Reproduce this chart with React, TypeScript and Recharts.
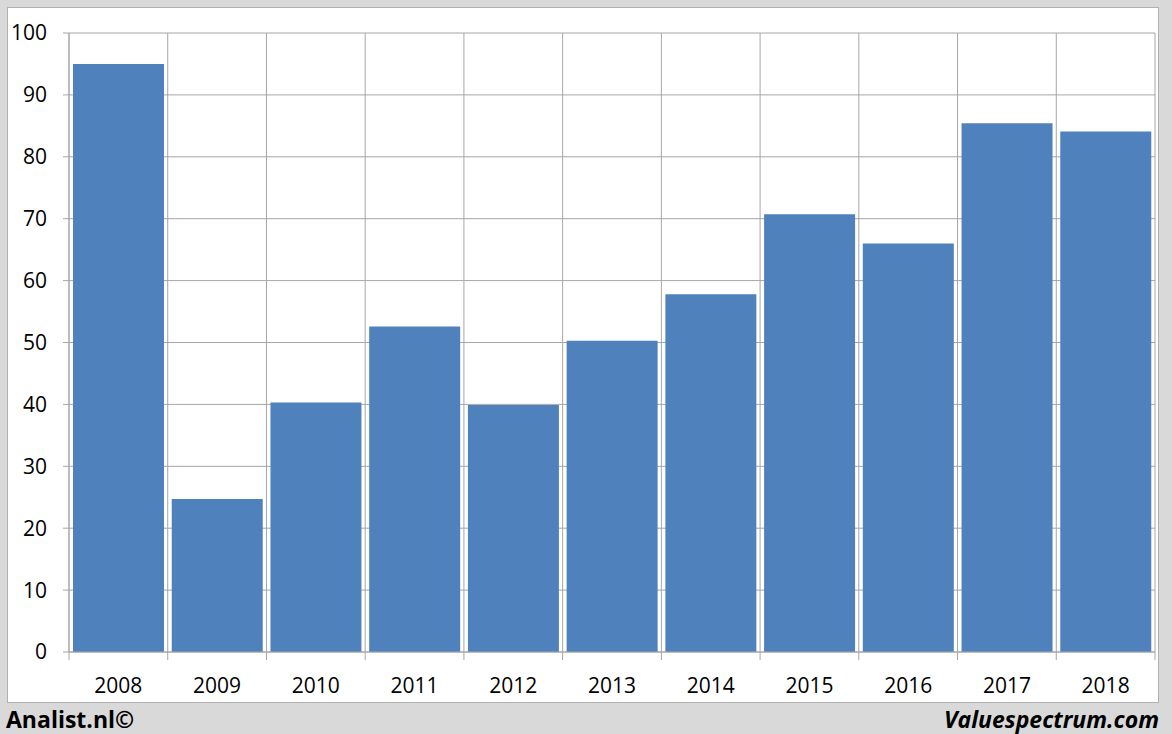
import { BarChart, Bar, XAxis, YAxis, CartesianGrid } from 'recharts'

const years = ['2008', '2009', '2010', '2011', '2012', '2013', '2014', '2015', '2016', '2017', '2018']
const values = [95, 24.7, 40.3, 52.6, 39.9, 50.3, 57.8, 70.7, 66, 85.4, 84.1]
const yTicks = [0, 10, 20, 30, 40, 50, 60, 70, 80, 90, 100]

const data = years.map((year, i) => ({ year, value: values[i] }))

const CHART_W = 1152
const CHART_H = 696
const Y_AXIS_W = 62
const MARGIN = { top: 26, right: 4, left: 0, bottom: 0 }
const PLOT_W = CHART_W - Y_AXIS_W - MARGIN.left - MARGIN.right
const BAND = PLOT_W / years.length
const GRID = '#a6a6a6'
const FONT = '"Open Sans", "Noto Sans", sans-serif'

function CatTick(props: any) {
  const { x, y, payload, index } = props
  const isLast = index === years.length - 1
  return (
    <g>
      <line x1={x - BAND / 2} x2={x - BAND / 2} y1={y} y2={y + 8} stroke={GRID} />
      {isLast && <line x1={x + BAND / 2} x2={x + BAND / 2} y1={y} y2={y + 8} stroke={GRID} />}
      <text x={x} y={y + 33} textAnchor="middle" dominantBaseline="central" fill="#000" fontSize={21} fontFamily={FONT}>
        {payload.value}
      </text>
    </g>
  )
}

export default function App() {
  return (
    <div style={{ position: 'absolute', left: 0, top: 0, width: 1172, height: 734, background: '#d9d9d9', fontFamily: FONT }}>
      <div
        style={{
          position: 'absolute',
          left: 7,
          top: 7,
          width: CHART_W,
          height: CHART_H,
          background: '#fff',
          boxSizing: 'border-box',
          border: '1px solid #b0b0b0',
        }}
      />
      <div style={{ position: 'absolute', left: 7, top: 7 }}>
        <BarChart width={CHART_W} height={CHART_H} data={data} margin={MARGIN} barCategoryGap={4}>
          <CartesianGrid
            stroke={GRID}
            verticalCoordinatesGenerator={({ offset }: any) =>
              years.map((_, i) => offset.left + i * (offset.width / years.length)).concat(offset.left + offset.width)
            }
          />
          <XAxis
            dataKey="year"
            interval={0}
            height={51}
            axisLine={{ stroke: GRID }}
            tickLine={false}
            tickSize={0}
            tickMargin={0}
            tick={<CatTick />}
          />
          <YAxis
            width={Y_AXIS_W}
            domain={[0, 100]}
            ticks={yTicks}
            interval={0}
            axisLine={{ stroke: GRID }}
            tickLine={{ stroke: GRID }}
            tickSize={6}
            tickMargin={16}
            tick={{ fill: '#000', fontSize: 21, fontFamily: FONT }}
          />
          <Bar dataKey="value" fill="#4f81bd" isAnimationActive={false} />
        </BarChart>
      </div>
      <div style={{ position: 'absolute', left: 6, top: 703, fontSize: 23, fontWeight: 700, color: '#000' }}>
        Analist.nl©
      </div>
      <div
        style={{
          position: 'absolute',
          right: 13,
          top: 703,
          fontSize: 23,
          fontWeight: 700,
          fontStyle: 'italic',
          color: '#000',
        }}
      >
        Valuespectrum.com
      </div>
    </div>
  )
}
